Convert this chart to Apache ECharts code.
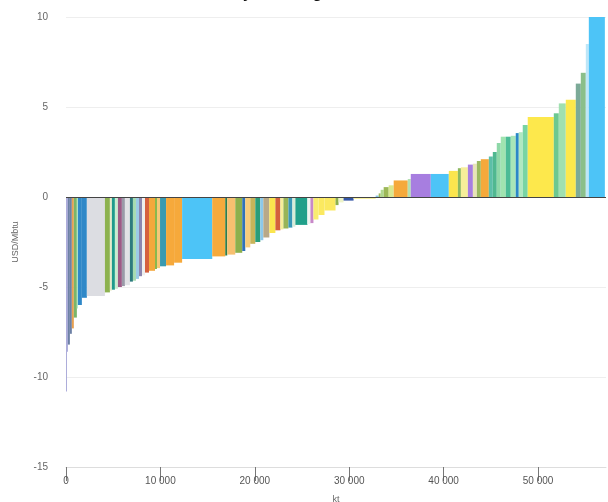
<!DOCTYPE html>
<html>
<head>
    <meta charset="UTF-8">
    <title>Abatement cost curve</title>
    <script src="https://cdn.jsdelivr.net/npm/echarts@6/dist/echarts.min.js"></script>
    <style>
        html, body { margin: 0; padding: 0; background: #fff; }
    </style>
</head>
<body>
    <div id="main" style="width: 608px;height:502px;"></div>
    <script type="text/javascript">
        // abatement potential of each measure (kt), left to right
        var widths = [
            100, 100, 210, 210, 210, 320, 110, 420, 530, 1910,
            530, 210, 320, 320, 420, 320, 530, 320, 320, 320,
            320, 320, 420, 640, 210, 320, 640, 850, 850, 3190,
            1380, 210, 850, 740, 320, 530, 530, 530, 320, 640,
            640, 530, 320, 530, 420, 320, 1270, 320, 320, 530,
            640, 1170, 320, 530, 1060, 2340, 320, 210, 320, 530,
            530, 1490, 320, 2120, 1910, 960, 320, 740, 530, 420,
            420, 850, 420, 420, 420, 530, 530, 530, 320, 420,
            530, 2760, 530, 740, 1060, 530, 530, 320, 1700
        ];
        // cost of each measure (USD/Mbtu)
        var costs = [
            -10.8, -8.6, -8.2, -7.6, -7.3, -6.7, -6.2, -6.0, -5.6, -5.5,
            -5.3, -5.2, -5.15, -5.1, -5.0, -4.95, -4.9, -4.7, -4.65, -4.55,
            -4.4, -4.35, -4.2, -4.1, -4.0, -3.95, -3.85, -3.8, -3.65, -3.45,
            -3.3, -3.25, -3.2, -3.1, -3.0, -2.8, -2.6, -2.5, -2.4, -2.25,
            -2.0, -1.85, -1.8, -1.75, -1.7, -1.65, -1.55, -1.5, -1.45, -1.25,
            -1.0, -0.75, -0.45, -0.3, -0.2, -0.1, 0.08, 0.2, 0.4, 0.55,
            0.65, 0.92, 1.0, 1.28, 1.28, 1.45, 1.6, 1.65, 1.8, 1.85,
            2.0, 2.1, 2.25, 2.5, 3.0, 3.35, 3.35, 3.4, 3.55, 3.6,
            4.0, 4.45, 4.65, 5.2, 5.4, 6.3, 6.9, 8.5, 11
        ];
        var barColors = [
            '#a8a8d8', '#a8a8d8', '#6d80a5', '#6d80a5', '#e8a050', '#7ab56a', '#b0eac0', '#2f88c8', '#2f88c8', '#dcdde2',
            '#8db24f', '#e6eaca', '#1f9a8c', '#c8ecd0', '#9e5a86', '#9a9aa8', '#e2e2e6', '#2c7b7e', '#a6dcb0', '#9ccbe6',
            '#8c86b0', '#eeeeee', '#d6603e', '#f4a83c', '#8ab84e', '#f6c878', '#3a9ab0', '#f6a93b', '#f6a93b', '#4dc4f7',
            '#f6aa3c', '#2d7d4a', '#f7c070', '#8db04c', '#2f72b8', '#f7cc7a', '#c8b45a', '#2a9d7a', '#8cc8ea', '#b8a888',
            '#fbe54e', '#d4603c', '#f6ee9a', '#98b458', '#3a98b8', '#d8ecd8', '#20a08a', '#eef6f0', '#c888c8', '#f9ec70',
            '#fbe960', '#fbe960', '#8cb04e', '#eef4c8', '#3456a6', '#f8ef8a', '#8ac8e8', '#9cb858', '#b0d890', '#9cb858',
            '#d8e890', '#f5a93b', '#b4e0b0', '#a77ee0', '#4dc4f7', '#fbe54e', '#8cb860', '#f6ee9a', '#a77ee0', '#e8e4b8',
            '#9ab860', '#f5a93b', '#5cbfa8', '#50b890', '#8ed8a8', '#a0e4b0', '#4cbc96', '#a8e6b8', '#2a88c8', '#b0e8c0',
            '#78d4a4', '#fde84c', '#6cc890', '#a0e0b0', '#fde84c', '#7caa98', '#8abf8a', '#bde6f8', '#4dc4f7'
        ];
        var xTicks = [0, 10000, 20000, 30000, 40000, 50000];

        var data = [];
        var start = 0;
        widths.forEach(function (w, i) {
            data.push({
                value: [start, start + w, costs[i]],
                itemStyle: { color: barColors[i] }
            });
            start += w;
        });

        function renderItem(params, api) {
            var p0 = api.coord([api.value(0), 0]);
            var p1 = api.coord([api.value(1), api.value(2)]);
            var rect = echarts.graphic.clipRectByRect({
                x: p0[0],
                y: Math.min(p0[1], p1[1]),
                width: p1[0] - p0[0],
                height: Math.abs(p1[1] - p0[1])
            }, {
                x: params.coordSys.x,
                y: params.coordSys.y,
                width: params.coordSys.width,
                height: params.coordSys.height
            });
            return rect && {
                type: 'rect',
                shape: rect,
                style: { fill: api.visual('color') }
            };
        }

        var myChart = echarts.init(document.getElementById('main'));
        var option = {
            animation: false,
            title: {
                text: 'Methane abatement cost curve by oil and gas',
                left: -5,
                top: -14,
                padding: 0,
                textStyle: { fontFamily: 'Liberation Sans', fontSize: 16, fontWeight: 'bold', color: '#111' }
            },
            grid: { left: 66, right: 2, top: 17, bottom: 35, outerBoundsMode: 'none' },
            xAxis: {
                type: 'value',
                min: 0,
                max: 57200,
                interval: 10000,
                name: 'kt',
                nameLocation: 'middle',
                nameGap: 28,
                nameTextStyle: { color: '#666', fontSize: 9 },
                axisLine: { onZero: false, lineStyle: { color: '#ddd' } },
                axisTick: { show: true, length: 14, customValues: xTicks, lineStyle: { color: '#777' } },
                splitLine: { show: false },
                axisLabel: {
                    margin: 9,
                    color: '#555',
                    fontSize: 10,
                    customValues: xTicks,
                    formatter: function (v) {
                        return String(v).replace(/\B(?=(\d{3})+(?!\d))/g, ' ');
                    }
                }
            },
            yAxis: {
                type: 'value',
                min: -15,
                max: 10,
                interval: 5,
                name: 'USD/Mbtu',
                nameLocation: 'middle',
                nameGap: 46,
                nameTextStyle: { color: '#666', fontSize: 9 },
                axisLine: { show: false },
                axisTick: { show: false },
                splitLine: { lineStyle: { color: '#eeeeee' } },
                axisLabel: { color: '#666', fontSize: 10, margin: 18 }
            },
            series: [{
                type: 'custom',
                renderItem: renderItem,
                encode: { x: [0, 1], y: 2 },
                data: data,
                markLine: {
                    silent: true,
                    symbol: 'none',
                    label: { show: false },
                    lineStyle: { color: '#444', width: 1, type: 'solid' },
                    data: [{ yAxis: 0 }]
                }
            }]
        };
        myChart.setOption(option);
    </script>
</body>
</html>
